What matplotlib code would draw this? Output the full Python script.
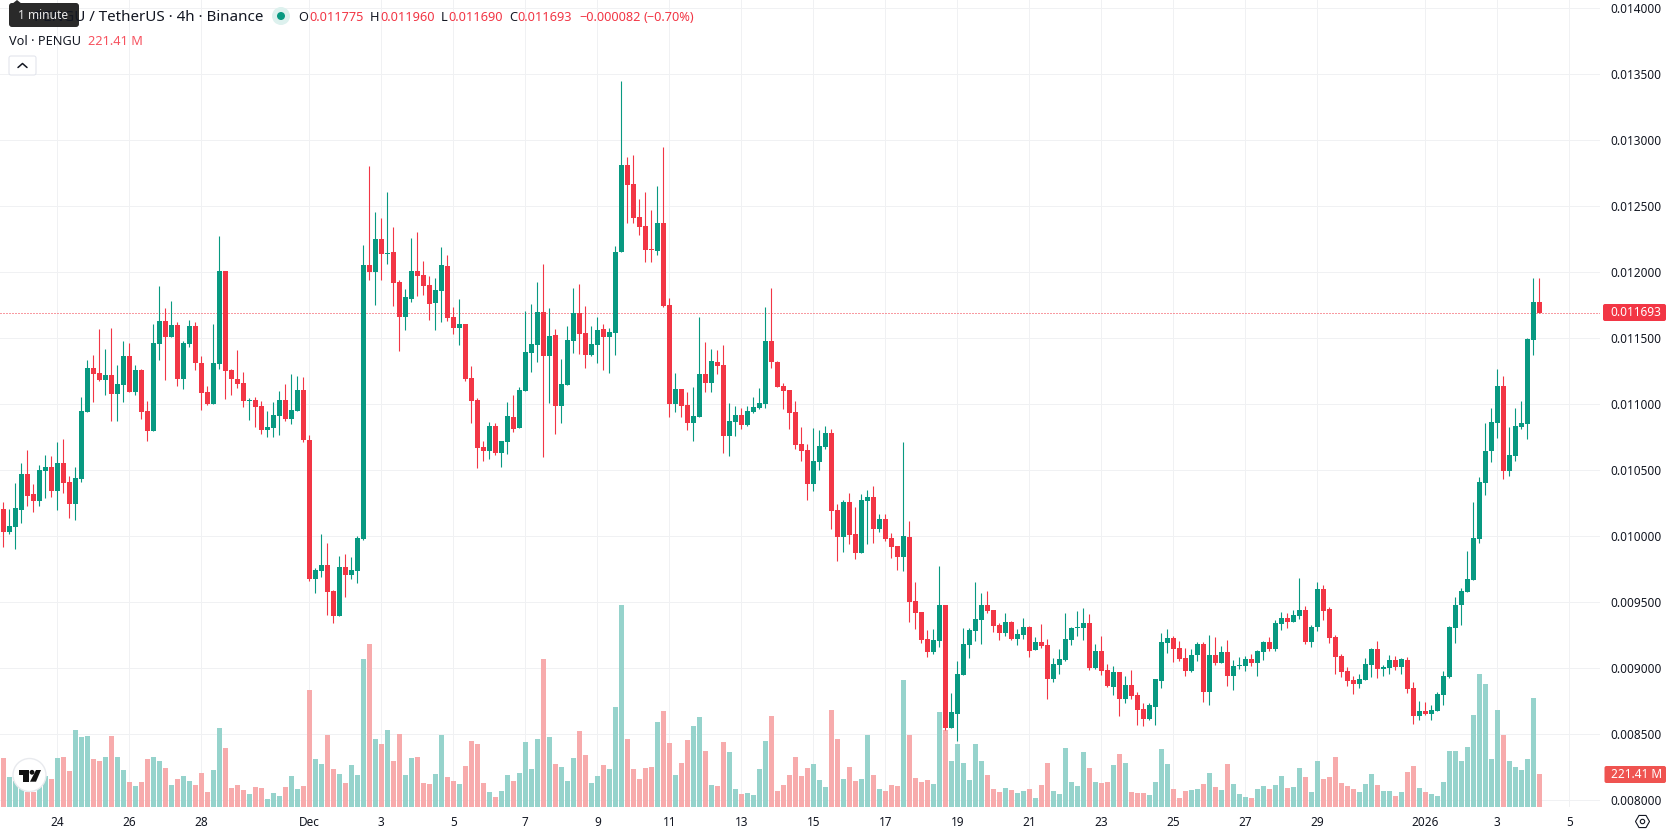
import numpy as np
import matplotlib
matplotlib.use("Agg")
import matplotlib.pyplot as plt
from matplotlib.patches import FancyBboxPatch, Circle, Polygon, RegularPolygon

plt.rcParams['font.family'] = ['Noto Sans', 'DejaVu Sans']

# PENGU/USDT 4h candles, prices in millionths of a dollar, volume in millions
opens = [
    10207,10036,10073,10200,10472,10321,10268,10495,10525,10344,
    10556,10412,10245,10434,10942,11275,11237,11184,11222,11078,
    11147,11366,11094,11260,10950,10798,11457,11631,11510,11601,
    11192,11457,11594,11313,11094,11003,11306,12010,11260,11192,
    11162,11028,11033,10988,10806,10821,10912,11033,10889,10950,
    11109,10730,9677,9738,9783,9586,9397,9768,9707,9738,
    9980,12056,12003,12253,12139,12154,11927,11662,11798,12010,
    11980,11904,11768,11859,12048,11662,11578,11609,11200,11033,
    10677,10647,10836,10631,10715,10904,10821,11101,11389,11450,
    11700,11366,11525,10987,11147,11480,11692,11540,11374,11450,
    11571,11510,11540,12154,12813,12669,12419,12351,12177,12162,
    12374,11753,11003,11116,10995,10859,10904,11230,11162,11321,
    11298,10760,10866,10919,10844,10942,10972,11003,11480,11321,
    11139,11111,10945,10702,10657,10399,10566,10679,10785,10202,
    9998,10263,10020,9876,10270,10301,10058,10134,9990,9930,
    9846,9998,9513,9430,9225,9127,9210,9483,8551,8657,
    8952,9180,9286,9369,9483,9445,9331,9270,9354,9225,
    9255,9316,9142,9202,9180,8922,9028,9066,9217,9308,
    9308,9346,9005,9134,8990,8861,8975,8771,8877,8801,
    8695,8619,8710,8907,9195,9233,9157,9081,8983,9104,
    9187,8824,9104,9043,9127,8945,9021,9021,9074,9043,
    9127,9202,9149,9339,9384,9354,9399,9445,9202,9316,
    9604,9452,9240,9096,8983,8914,8884,8914,9028,9149,
    8998,9005,9066,9013,9066,8854,8642,8680,8657,8680,
    8801,8937,9308,9483,9581,9672,9983,10407,10649,10861,
    11142,10498,10611,10831,10854,11490,11775]
highs = [
    10263,10207,10404,10556,10654,10397,10541,10616,10609,10715,
    10738,10457,10525,11056,11336,11374,11571,11419,11578,11298,
    11480,11465,11298,11268,11025,11609,11896,11730,11783,11624,
    11480,11639,11624,11366,11139,11609,12275,12010,11268,11412,
    11245,11048,11056,11025,10950,11018,11101,11154,11230,11215,
    11207,10768,9760,10018,9950,9594,9851,9866,9844,10003,
    12207,12805,12457,12411,12608,12343,11942,11874,12260,12305,
    12086,11972,11957,12192,12131,11737,11798,11609,11290,11048,
    10722,10866,10859,10722,11018,11071,11131,11707,11760,11927,
    12063,11730,11571,11344,11593,11881,11912,11745,11593,11662,
    11609,11578,12199,13449,12874,12889,12555,12608,12472,12654,
    12949,11806,11237,11116,11094,11131,11662,11472,11419,11412,
    11450,11010,10987,10972,10987,11056,11124,11737,11881,11328,
    11162,11111,11028,10831,10702,10823,10808,10839,10816,10248,
    10278,10331,10225,10323,10354,10384,10172,10172,10028,9930,
    10717,10119,9657,9430,9293,9301,9778,9483,8816,9058,
    9308,9308,9657,9574,9589,9445,9346,9422,9361,9301,
    9384,9323,9240,9339,9225,9081,9149,9422,9316,9437,
    9460,9414,9187,9248,9036,9021,8975,8945,8990,8824,
    8740,8740,8922,9270,9301,9248,9210,9157,9149,9202,
    9202,9255,9240,9172,9218,9066,9089,9096,9111,9142,
    9210,9240,9369,9430,9422,9445,9687,9475,9331,9657,
    9634,9467,9255,9111,9013,8945,8960,9081,9157,9210,
    9028,9104,9096,9081,9089,8899,8755,8748,8725,8824,
    8983,9323,9543,9611,9892,10263,10452,10861,10975,11270,
    11217,10831,10975,11028,11505,11960,11960]
lows = [
    9922,10018,9904,10101,10230,10185,10230,10291,10298,10200,
    10328,10139,10124,10412,10942,11018,11177,11071,10874,10874,
    11018,11094,11071,10889,10722,10798,11336,11184,11510,11139,
    11116,11434,11260,10957,10995,11003,11268,11040,11071,11124,
    10980,10881,10828,10775,10753,10753,10768,10874,10851,10950,
    10715,9662,9571,9692,9404,9344,9397,9541,9677,9647,
    9972,11942,11753,11942,12063,11745,11404,11563,11775,11821,
    11828,11639,11563,11624,11631,11533,11450,11177,10859,10517,
    10570,10586,10616,10525,10624,10790,10821,11101,11245,11321,
    10601,11010,10775,10859,11147,11389,11381,11275,11366,11313,
    11260,11237,11374,12154,12374,12374,12283,12078,12078,12131,
    11737,10904,10942,10904,10806,10722,10904,11094,11094,11230,
    10631,10609,10760,10813,10836,10934,10965,10972,11275,11131,
    10965,10816,10664,10573,10278,10346,10505,10664,10058,9816,
    9884,9945,9831,9876,9945,9952,10036,9967,9839,9748,
    9740,9354,9301,9195,9089,9111,9164,8536,8551,8452,
    8952,9081,9210,9187,9422,9278,9217,9248,9217,9180,
    9225,9089,9142,9157,8771,8899,8960,9058,9180,9248,
    9217,8990,8998,8952,8861,8801,8642,8740,8771,8574,
    8566,8611,8574,8854,9119,9051,9058,8945,8975,9058,
    8748,8725,9028,9043,8869,8839,8998,8983,9021,8945,
    9066,9134,9134,9293,9308,9354,9377,9187,9164,9286,
    9369,9195,8960,8937,8869,8808,8854,8914,8937,8930,
    8945,8960,8990,8960,8816,8581,8611,8649,8611,8680,
    8718,8930,9195,9331,9581,9672,9952,10316,10566,10748,
    10437,10460,10573,10816,10740,11376,11690]
closes = [
    10036,10079,10215,10472,10306,10268,10503,10525,10344,10556,
    10404,10245,10442,10950,11275,11230,11184,11222,11078,11154,
    11366,11094,11260,10942,10798,11465,11631,11510,11601,11192,
    11465,11594,11313,11086,11003,11313,12010,11253,11192,11154,
    11025,11033,10980,10806,10828,10919,11033,10889,10957,11109,
    10730,9677,9745,9783,9579,9397,9768,9707,9745,9988,
    12056,12003,12253,12139,12146,11919,11662,11813,12010,11972,
    11896,11760,11866,12056,11654,11578,11609,11192,11025,10669,
    10647,10836,10631,10722,10912,10813,11109,11397,11457,11700,
    11366,11518,10987,11154,11487,11692,11533,11374,11457,11563,
    11510,11548,12154,12813,12661,12411,12343,12169,12169,12374,
    11745,11003,11116,10987,10859,10912,11230,11162,11328,11290,
    10760,10874,10919,10844,10950,10980,11010,11480,11321,11131,
    11101,10937,10695,10649,10399,10573,10687,10785,10195,9998,
    10263,10013,9876,10278,10301,10058,10134,9983,9922,9846,
    10005,9505,9422,9217,9127,9217,9483,8551,8665,8960,
    9187,9293,9377,9483,9437,9323,9270,9354,9225,9263,
    9316,9134,9202,9172,8922,9036,9074,9225,9308,9316,
    9346,9005,9134,8983,8869,8975,8771,8877,8793,8687,
    8619,8718,8915,9202,9233,9149,9074,8983,9104,9187,
    8824,9104,9043,9127,8945,9021,9028,9074,9043,9134,
    9202,9149,9346,9384,9354,9407,9445,9202,9316,9604,
    9437,9233,9089,8975,8907,8884,8922,9036,9149,8998,
    9013,9066,9013,9074,8846,8642,8680,8657,8687,8808,
    8945,9316,9483,9589,9680,9990,10414,10649,10869,11142,
    10498,10619,10839,10861,11498,11775,11693]
volumes = [
    329,201,174,148,101,101,181,208,188,329,
    335,241,517,470,476,322,309,335,476,335,
    248,168,141,168,322,335,309,262,148,188,
    208,174,148,228,101,248,530,396,127,148,
    114,87,134,127,54,94,74,134,208,121,
    141,785,322,288,483,255,221,161,282,215,
    993,1093,456,423,517,309,490,215,329,335,
    161,154,221,483,201,174,154,275,443,423,
    161,101,67,107,215,174,228,436,255,456,
    993,470,288,268,174,329,510,349,161,208,
    282,255,671,1355,456,255,188,262,268,570,
    644,429,215,295,449,543,604,376,148,141,
    436,369,121,87,94,80,255,443,610,107,
    148,215,335,208,262,288,181,134,651,456,
    188,268,174,188,483,215,121,107,148,141,
    852,483,195,168,181,154,637,517,309,423,
    295,181,423,309,215,121,101,127,114,94,
    107,121,60,148,295,107,87,396,168,141,
    369,262,168,161,168,282,356,295,101,94,
    94,80,168,389,288,121,60,107,114,121,
    154,228,134,114,288,154,87,67,60,121,
    141,121,148,208,127,134,262,201,101,309,
    188,201,335,161,141,121,101,154,221,148,
    107,107,74,101,235,275,127,101,87,74,
    168,376,376,309,402,617,892,825,322,651,
    483,309,268,248,322,731,221.41]

price_ticks = [8000, 8500, 9000, 9500, 10000, 10500, 11000, 11500, 12000, 12500, 13000, 13500, 14000]
# candle index of each midnight that carries a date label
date_ticks = [9, 21, 33, 51, 63, 75, 87, 99, 111, 123, 135, 147, 159, 171, 183, 195, 207, 219, 237, 249, 261]
date_labels = ['24', '26', '28', 'Dec', '3', '5', '7', '9', '11', '13', '15', '17', '19', '21', '23', '25',
               '27', '29', '2026', '3', '5']

GREEN = '#089981'
RED = '#F23645'
VOL_GREEN = '#92D2CA'
VOL_RED = '#F7A8A9'
GRID = '#F0F1F3'
INK = '#131722'
PX = 0.72  # one pixel in points at dpi 100

o = np.array(opens) / 1e6
h = np.array(highs) / 1e6
l = np.array(lows) / 1e6
c = np.array(closes) / 1e6
x = np.arange(len(o))
up = c >= o

fig = plt.figure(figsize=(16.78, 8.35), dpi=100)
ax = fig.add_axes([0, 28 / 835, 1600 / 1678, 807 / 835])
ax.set_xlim(-0.555, 266.11)
ax.set_ylim(0.007949, 0.014063)

# volume bars above the grid, candles above the volume
ax_vol = ax.twinx()
ax_vol.set_ylim(0, 807 * 221.41 / 33)
ax_vol.axis('off')
ax_vol.bar(x, volumes, width=5 / 6, color=np.where(up, VOL_GREEN, VOL_RED), alpha=0.96, linewidth=0)

ax_c = ax.twinx()
ax_c.set_ylim(ax.get_ylim())
ax_c.axis('off')
ax_c.axhline(c[-1], color=RED, linewidth=PX, linestyle=(0, (1, 2)), zorder=1)
colors = np.where(up, GREEN, RED)
ax_c.vlines(x, l, h, colors=colors, linewidth=PX * 1.1, zorder=2, snap=True)
ax_c.bar(x, c - o, bottom=o, width=0.87, color=colors, linewidth=0, zorder=3)

# grid and both axes live on the bottom layer
ax.set_axisbelow(True)
ax.grid(True, color=GRID, linewidth=PX)
for s in ax.spines.values():
    s.set_visible(False)
ax.yaxis.tick_right()
ax.set_yticks([p / 1e6 for p in price_ticks], ['%.6f' % (p / 1e6) for p in price_ticks])
ax.set_xticks(date_ticks, date_labels)
ax.tick_params(axis='y', length=0, pad=7.4, labelsize=8.5, labelcolor=INK)
ax.tick_params(axis='x', length=0, pad=6.2, labelsize=8.5, labelcolor=INK)
for t in ax.get_xticklabels():
    if t.get_text() == '2026':
        t.set_fontweight('bold')

# legend rows, axis badges and widgets, placed in pixels
ui = fig.add_axes([0, 0, 1, 1], zorder=10)
ui.set_xlim(0, 1678)
ui.set_ylim(835, 0)
ui.axis('off')

ui.text(263, 17.5, 'PENGU / TetherUS · 4h · Binance', ha='right', va='center', fontsize=10.9, color=INK)
ui.add_patch(Circle((281, 16), 9, color='#DDF1EE', linewidth=0))
ui.add_patch(Circle((281, 16), 4, color=GREEN, linewidth=0))

legend_row = [(298, 'O', INK), (309, '0.011775', RED), (370, 'H', INK), (380, '0.011960', RED),
              (441, 'L', INK), (448, '0.011690', RED), (509, 'C', INK), (517, '0.011693', RED),
              (579, '\u22120.000082', RED), (643, '(\u22120.70%)', RED)]
for px, txt, col in legend_row:
    ui.text(px, 17.5, txt, ha='left', va='center', fontsize=9.2, color=col)
ui.text(9, 41.5, 'Vol · PENGU', ha='left', va='center', fontsize=9.2, color=INK)
ui.text(88, 41.5, '221.41 M', ha='left', va='center', fontsize=9.2, color='#F7525F')

# tooltip over the symbol name
ui.add_patch(FancyBboxPatch((11, 5), 66, 20, boxstyle='round,pad=2,rounding_size=3', color='#2A2A2A', linewidth=0))
ui.add_patch(Polygon([(12, 4), (17, 0), (22, 4)], color='#2A2A2A', linewidth=0))
ui.text(18, 15.5, '1 minute', ha='left', va='center', fontsize=8.6, color='#E8E8E8')

# collapse button
ui.add_patch(FancyBboxPatch((9, 56), 27, 19, boxstyle='round,pad=0,rounding_size=2', facecolor='white',
                            edgecolor='#E0E3EB', linewidth=PX))
ui.plot([18, 22.5, 27], [67.5, 63.5, 67.5], color=INK, linewidth=1.1, solid_capstyle='round')

# current price and volume badges
ui.add_patch(FancyBboxPatch((1603, 304), 63, 17, boxstyle='round,pad=0,rounding_size=2', color=RED, linewidth=0))
ui.text(1610, 312.8, '0.011693', ha='left', va='center', fontsize=8.5, color='white')
ui.add_patch(FancyBboxPatch((1604.5, 766), 61.5, 17, boxstyle='round,pad=0,rounding_size=2', color='#EF5350', linewidth=0))
ui.text(1611, 774.5, '221.41 M', ha='left', va='center', fontsize=8.5, color='white')

# settings hexagon in the corner
ui.add_patch(RegularPolygon((1642.5, 821.5), 6, radius=7, orientation=np.pi / 2, facecolor='none',
                            edgecolor=INK, linewidth=0.8))
ui.add_patch(Circle((1642.5, 821.5), 2.2, facecolor='none', edgecolor=INK, linewidth=0.8))

# logo badge
ui.add_patch(Circle((29.5, 775), 16.5, facecolor='white', edgecolor='#E8EAEE', linewidth=1))
ui.add_patch(Polygon([(18.6, 770), (29, 770), (29, 781.7), (23, 781.7), (23, 775), (18.6, 775)], color='#111111', linewidth=0))
ui.add_patch(Circle((32, 772.3), 2.4, color='#111111', linewidth=0))
ui.add_patch(Polygon([(36, 770), (41, 770), (36, 781.7), (30, 781.7)], color='#111111', linewidth=0))

fig.savefig('out.png', dpi=100)
